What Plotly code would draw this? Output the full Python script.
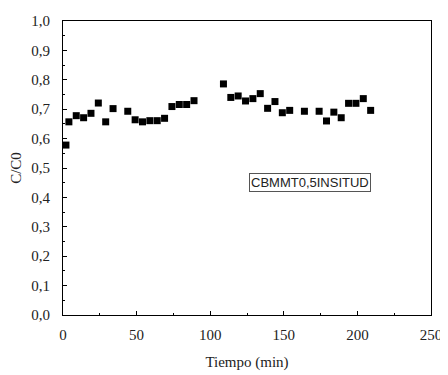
import plotly.graph_objects as go

tiempo = [2, 4, 9, 14, 19, 24, 29, 34, 44, 49, 54, 59, 64, 69, 74, 79, 84, 89,
          109, 114, 119, 124, 129, 134, 139, 144, 149, 154, 164, 174, 179, 184,
          189, 194, 199, 204, 209]
c_c0 = [0.578, 0.657, 0.678, 0.671, 0.686, 0.721, 0.657, 0.702, 0.693, 0.664,
        0.657, 0.661, 0.661, 0.669, 0.709, 0.716, 0.716, 0.729,
        0.786, 0.740, 0.745, 0.728, 0.736, 0.753, 0.703, 0.726, 0.688, 0.696,
        0.693, 0.693, 0.660, 0.690, 0.671, 0.720, 0.720, 0.736, 0.696]
series_name = "CBMMT0,5INSITUD"
x_ticks = [0, 50, 100, 150, 200, 250]
y_ticks = [0.0, 0.1, 0.2, 0.3, 0.4, 0.5, 0.6, 0.7, 0.8, 0.9, 1.0]
y_tick_labels = [f"{v:.1f}".replace(".", ",") for v in y_ticks]

fig = go.Figure()
fig.add_trace(go.Scatter(
    x=tiempo, y=c_c0, mode="markers", name=series_name,
    marker=dict(symbol="square", size=7, color="black"),
    showlegend=False,
))

serif = "Liberation Serif, Times New Roman, serif"
axis_common = dict(
    showline=True, linecolor="black", linewidth=1, mirror=True, automargin=False,
    ticks="inside", ticklen=4, tickcolor="black", showgrid=False, zeroline=False,
    tickfont=dict(family=serif, size=15, color="#222"),
)
fig.update_xaxes(range=[0, 250], tickvals=x_ticks, ticklabelstandoff=6,
                 minor=dict(ticks="inside", ticklen=2, dtick=25, tickcolor="black"),
                 title=dict(text="Tiempo (min)", font=dict(family=serif, size=15, color="#222"), standoff=14),
                 **axis_common)
fig.update_yaxes(range=[0, 1.0], tickvals=y_ticks, ticktext=y_tick_labels, ticklabelstandoff=9,
                 minor=dict(ticks="inside", ticklen=2, dtick=0.05, tickcolor="black"),
                 title=dict(text="C/C0", font=dict(family=serif, size=15, color="#222"), standoff=6),
                 **axis_common)

fig.add_annotation(x=167.8, y=0.452, xref="x", yref="y", text=series_name,
                   showarrow=False, font=dict(family="Liberation Sans, Arial, sans-serif", size=13, color="#222"),
                   bordercolor="#555", borderwidth=1, borderpad=1, bgcolor="white")

# page body has an 8px margin, so the figure is sized to fill the rest of the window
fig.update_layout(
    width=440, height=367,
    margin=dict(l=55, r=17, t=13, b=60),
    paper_bgcolor="white", plot_bgcolor="white",
)
fig.write_html("out.html")
